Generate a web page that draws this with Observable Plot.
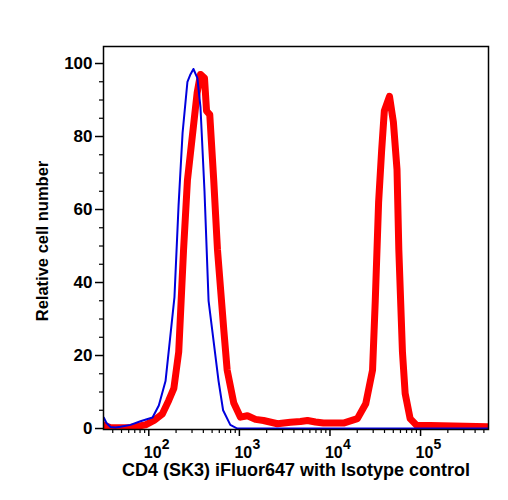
<!DOCTYPE html>
<html>
<head>
<meta charset="utf-8">
<script src="https://cdn.jsdelivr.net/npm/d3@7"></script>
<script src="https://cdn.jsdelivr.net/npm/@observablehq/plot@0.6"></script>
<style>
  html, body { margin: 0; padding: 0; background: white; }
</style>
</head>
<body>
<div id="chart"></div>
<script>
// Isotype control (blue)
const isoFluor = [31.8, 34.1, 37.8, 42.9, 48.8, 62.8, 80.9, 110, 129, 153, 174, 192, 213, 236, 267, 288, 311, 344, 372, 412, 457, 501, 589, 661, 794, 948, 2000, 10000, 100000, 562000];
const isoCount = [3.0, 1.5, 0.4, 0.3, 0.5, 1.0, 2.0, 3.0, 6.3, 13, 26, 36, 61, 81, 95, 97, 98.5, 96, 88, 65, 35, 27, 13, 5, 1, 0, 0, 0, 0, 0];

// CD4 (SK3) iFluor647 (red)
const cd4Fluor = [31.6, 37.8, 62.8, 92, 114, 141, 166, 189, 214, 242, 267, 302, 342, 372, 412, 434, 471, 521, 573, 673, 733, 867, 1028, 1227, 1507, 1845, 2630, 3656, 4721, 5649, 6918, 8472, 14090, 20090, 24830, 29510, 31620, 34430, 37150, 39810, 45390, 50120, 54950, 57540, 63100, 67610, 76740, 91200, 128800, 562000];
const cd4Count = [1.0, 0.2, 0.3, 1.0, 2.2, 4, 7.7, 11, 21, 49, 68, 80, 92, 97, 96, 87, 86, 68, 49, 27, 16, 7, 3.1, 3.5, 2.5, 2.2, 1.3, 1.7, 1.9, 2.2, 1.8, 1.5, 1.5, 2.7, 6.8, 16, 35, 62, 76, 87, 91, 84, 71, 49, 21, 9.6, 2.7, 0.8, 0.8, 0.5];

const xMajorTicks = [100, 1000, 10000, 100000];
const xTickBase = ["10", "10", "10", "10"];
const xTickExp = ["2", "3", "4", "5"];
const xMinorTicks = [40, 50, 60, 70, 80, 90, 200, 300, 400, 500, 600, 700, 800, 900, 2000, 3000, 4000, 5000, 6000, 7000, 8000, 9000, 20000, 30000, 40000, 50000, 60000, 70000, 80000, 90000, 200000, 300000, 400000, 500000];
const yMajorTicks = [0, 20, 40, 60, 80, 100];
const yMinorTicks = [5, 10, 15, 25, 30, 35, 45, 50, 55, 65, 70, 75, 85, 90, 95];

const xTitle = "CD4 (SK3) iFluor647 with Isotype control";
const yTitle = "Relative cell number";

const iso = isoFluor.map((f, i) => ({f, c: isoCount[i]}));
const cd4 = cd4Fluor.map((f, i) => ({f, c: cd4Count[i]}));
const xLabels = xMajorTicks.map((t, i) => ({t, base: xTickBase[i], exp: xTickExp[i]}));

const font = "'Liberation Sans', Arial, Helvetica, sans-serif";

const chart = Plot.plot({
  width: 508,
  height: 500,
  marginLeft: 103,
  marginRight: 20,
  marginTop: 46,
  marginBottom: 71,
  style: {fontFamily: font, fontWeight: "bold", background: "white", color: "black"},
  x: {type: "log", domain: [31.62, 562341]},
  y: {domain: [-0.27, 104.66]},
  marks: [
    Plot.line(cd4, {x: "f", y: "c", stroke: "#ff0000", strokeWidth: 7, strokeLinejoin: "round", clip: true}),
    Plot.line(iso, {x: "f", y: "c", stroke: "#0000dd", strokeWidth: 2, clip: true}),
    Plot.frame({stroke: "black", strokeWidth: 1.5}),
    Plot.axisX({ticks: xMinorTicks, tickSize: 4, tickFormat: () => "", strokeWidth: 1.2, label: null}),
    Plot.axisX({ticks: xMajorTicks, tickSize: 7, tickFormat: () => "", strokeWidth: 1.5, label: null}),
    Plot.text(xLabels, {x: "t", text: "base", frameAnchor: "bottom", textAnchor: "start", lineAnchor: "bottom", dx: -5, dy: 28, fontSize: 16, fontWeight: "bold"}),
    Plot.text(xLabels, {x: "t", text: "exp", frameAnchor: "bottom", textAnchor: "start", lineAnchor: "bottom", dx: 13, dy: 19, fontSize: 14, fontWeight: "bold"}),
    Plot.axisY({ticks: yMinorTicks, tickSize: 4, tickFormat: () => "", strokeWidth: 1.2, label: null}),
    Plot.axisY({ticks: yMajorTicks, tickSize: 8, tickPadding: 3, fontSize: 17, fontWeight: "bold", strokeWidth: 1.5, label: null}),
    Plot.text([yTitle], {frameAnchor: "left", textAnchor: "middle", dx: -61, dy: 3, rotate: -90, fontSize: 16.5, fontWeight: "bold"}),
    Plot.text([xTitle], {frameAnchor: "bottom", textAnchor: "middle", dy: 46, fontSize: 18, fontWeight: "bold"})
  ]
});

document.getElementById("chart").appendChild(chart);
</script>
</body>
</html>
